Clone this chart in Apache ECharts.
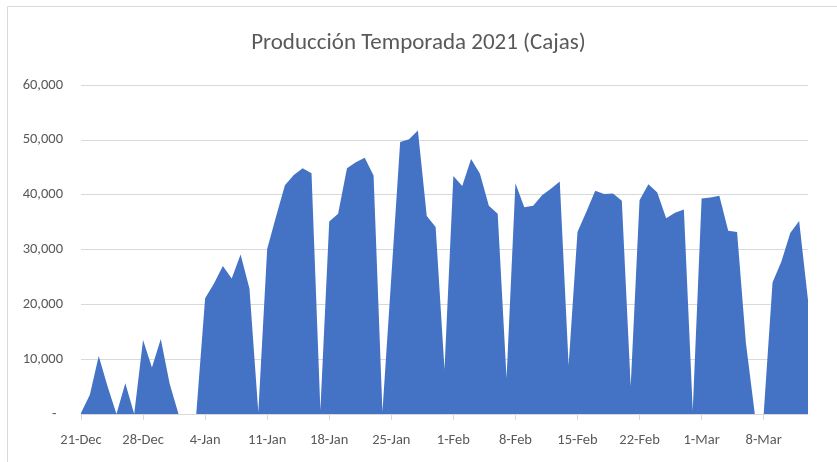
<!DOCTYPE html>
<html>
<head>
<meta charset="utf-8">
<script src="https://cdn.jsdelivr.net/npm/echarts@6/dist/echarts.min.js"></script>
<style>
  html, body { margin: 0; padding: 0; background: #fff; }
  #chart { width: 837px; height: 462px; }
</style>
</head>
<body>
<div id="chart"></div>
<script>
// fechas diarias desde 21-Dec hasta 13-Mar
var meses = ["Dec", "Jan", "Feb", "Mar"];
var diasPorMes = [31, 31, 28, 31];
var fechas = [];
var m = 0, d = 21;
for (var i = 0; i < 83; i++) {
    fechas.push(d + "-" + meses[m]);
    d++;
    if (d > diasPorMes[m]) { d = 1; m++; }
}

// cajas por dia
var cajas = [
    200, 3500, 10600, 5000, 0, 5600, 0, 13500, 8500, 13700,
    5500, 0, 0, 0, 21100, 23800, 27000, 24700, 29100, 22900,
    300, 30100, 36000, 41700, 43600, 44800, 43900, 700, 35100, 36500,
    44800, 45900, 46750, 43500, 400, 25000, 49600, 50100, 51700, 36100,
    34100, 8100, 43400, 41600, 46500, 43800, 38000, 36500, 6500, 42100,
    37700, 38000, 39900, 41100, 42400, 8900, 33200, 36900, 40700, 40100,
    40200, 38900, 5000, 39000, 41900, 40400, 35700, 36700, 37300, 600,
    39300, 39500, 39800, 33400, 33200, 12900, 0, 0, 24000, 27800,
    33000, 35200, 20800
];

var chart = echarts.init(document.getElementById("chart"));
window.addEventListener("resize", chart.resize);

var fuente = "Carlito, Lato, sans-serif";

var option = {
    animation: false,
    graphic: [{
        type: "rect",
        shape: { x: 7.5, y: 6.5, width: 840, height: 470 },
        style: { fill: "none", stroke: "#d9d9d9", lineWidth: 1 },
        silent: true
    }],
    title: {
        text: "Producción Temporada 2021 (Cajas)",
        left: "center",
        top: 27,
        textStyle: {
            fontFamily: fuente,
            fontSize: 23,
            fontWeight: "normal",
            color: "#595959"
        }
    },
    grid: {
        left: 81,
        right: 29,
        top: 85,
        bottom: 48
    },
    xAxis: {
        type: "category",
        data: fechas,
        boundaryGap: false,
        axisLine: { lineStyle: { color: "#d9d9d9", width: 1 } },
        axisTick: {
            length: 6,
            interval: function(index) { return index % 7 === 0; },
            lineStyle: { color: "#d9d9d9" }
        },
        axisLabel: {
            interval: function(index) { return index % 7 === 0; },
            margin: 19,
            fontFamily: fuente,
            fontSize: 14.5,
            color: "#595959"
        }
    },
    yAxis: {
        type: "value",
        min: 0,
        max: 60000,
        interval: 10000,
        axisLine: { show: false },
        axisTick: { show: false },
        splitLine: { lineStyle: { color: "#d9d9d9", width: 1 } },
        axisLabel: {
            margin: 18,
            fontFamily: fuente,
            fontSize: 14.5,
            color: "#595959",
            formatter: function(v) {
                if (v === 0) return "-  ";
                return v.toLocaleString("en-US");
            }
        }
    },
    series: [{
        name: "Cajas",
        type: "line",
        data: cajas,
        symbol: "none",
        lineStyle: { width: 0, opacity: 0 },
        areaStyle: { color: "#4472c4", opacity: 1 },
        itemStyle: { color: "#4472c4" }
    }]
};
chart.setOption(option);
</script>
</body>
</html>
